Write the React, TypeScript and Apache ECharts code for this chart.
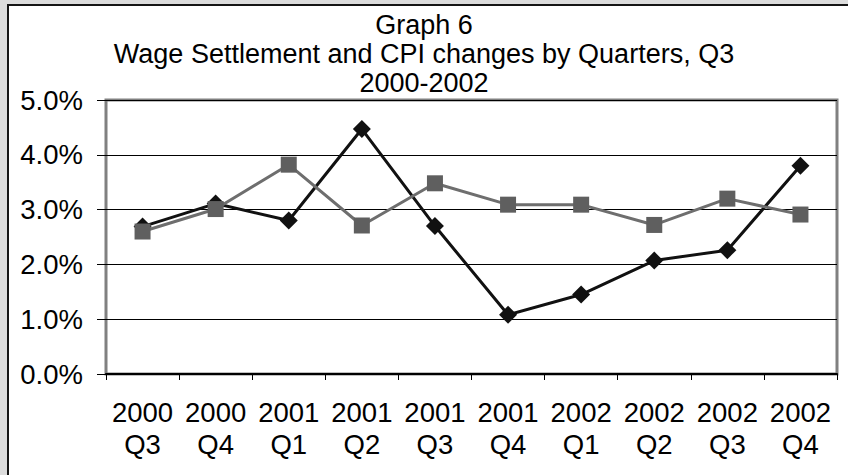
import React, { useEffect, useRef } from "react";
import * as echarts from "echarts";

// Quarter labels (year on the first line, quarter on the second)
const quarters: string[] = [
  "2000\nQ3", "2000\nQ4", "2001\nQ1", "2001\nQ2", "2001\nQ3",
  "2001\nQ4", "2002\nQ1", "2002\nQ2", "2002\nQ3", "2002\nQ4",
];

// Percentage changes per quarter
const wageSettlement: number[] = [2.69, 3.11, 2.8, 4.47, 2.7, 1.08, 1.45, 2.07, 2.26, 3.8];
const cpiChange: number[] = [2.6, 3.01, 3.82, 2.71, 3.48, 3.09, 3.09, 2.72, 3.2, 2.91];

const titleLines: string[] = [
  "Graph 6",
  "Wage Settlement and CPI changes by Quarters, Q3",
  "2000-2002",
];

const FONT = "'Liberation Sans', Arial, Helvetica, sans-serif";

export default function App() {
  const ref = useRef<HTMLDivElement>(null);

  useEffect(() => {
    if (!ref.current) return;
    const chart = echarts.init(ref.current, null, { renderer: "svg" });
    chart.setOption({
      animation: false,
      title: {
        text: titleLines.join("\n"),
        left: 424,
        top: 10,
        padding: 0,
        textAlign: "center",
        textStyle: {
          fontFamily: FONT,
          fontSize: 27,
          fontWeight: "normal",
          color: "#000",
          lineHeight: 29,
          align: "center",
        },
      },
      grid: {
        left: 106,
        right: 11,
        top: 100,
        bottom: 101,
        show: true,
        borderColor: "#808080",
        borderWidth: 3,
        backgroundColor: "#fff",
      },
      xAxis: {
        type: "category",
        data: quarters,
        boundaryGap: true,
        axisLine: { show: true, lineStyle: { color: "#000", width: 2 } },
        axisTick: { show: true, length: 6, lineStyle: { color: "#000", width: 1 } },
        axisLabel: {
          fontFamily: FONT,
          fontSize: 27.5,
          color: "#000",
          lineHeight: 32,
          margin: 22,
          interval: 0,
        },
        splitLine: { show: false },
      },
      yAxis: {
        type: "value",
        min: 0,
        max: 5,
        interval: 1,
        axisLine: { show: false },
        axisTick: { show: true, length: 9, lineStyle: { color: "#000", width: 1 } },
        axisLabel: {
          fontFamily: FONT,
          fontSize: 27.5,
          color: "#000",
          margin: 23,
          formatter: (v: number) => v.toFixed(1) + "%",
        },
        splitLine: { show: true, lineStyle: { color: "#000", width: 1 } },
      },
      series: [
        {
          name: "Wage Settlement",
          type: "line",
          data: wageSettlement,
          symbol: "diamond",
          symbolSize: 18,
          itemStyle: { color: "#111" },
          lineStyle: { color: "#111", width: 3 },
          z: 2,
        },
        {
          name: "CPI",
          type: "line",
          data: cpiChange,
          symbol: "rect",
          symbolSize: 16,
          itemStyle: { color: "#5f5f5f" },
          lineStyle: { color: "#6e6e6e", width: 3 },
          z: 3,
        },
      ],
    });
    return () => chart.dispose();
  }, []);

  return (
    <div
      style={{
        position: "fixed",
        left: 0,
        top: 0,
        width: 848,
        height: 475,
        background: "#dcdcdc",
        overflow: "hidden",
      }}
    >
      <div
        style={{
          position: "absolute",
          left: 7,
          top: 4,
          width: 900,
          height: 520,
          borderLeft: "2px solid #151515",
          borderTop: "2px solid #151515",
          background: "#fff",
        }}
      />
      <div
        ref={ref}
        style={{ position: "absolute", left: 0, top: 0, width: 848, height: 475 }}
      />
    </div>
  );
}
